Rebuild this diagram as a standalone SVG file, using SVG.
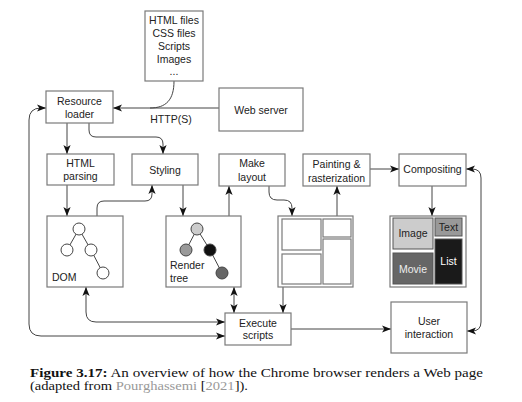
<svg xmlns="http://www.w3.org/2000/svg" width="522" height="402" viewBox="0 0 522 402">
<style>
.box{fill:#fff;stroke:#7a7a7a;stroke-width:1.2}
.t{font-family:"Liberation Sans",Arial,sans-serif;font-size:10.5px;fill:#222;text-anchor:middle}
.c{fill:none;stroke:#444;stroke-width:1}
.tr{stroke:#444;stroke-width:1}
.cap{font-family:"Liberation Serif","Times New Roman",serif;font-size:12.5px;fill:#111}
</style>
<defs>
<marker id="ah" viewBox="0 0 10 8" refX="10" refY="4" markerWidth="9" markerHeight="7.2" markerUnits="userSpaceOnUse" orient="auto-start-reverse">
<path d="M0,0 L10,4 L0,8 L2.5,4 z" fill="#111"/>
</marker>
</defs>
<rect width="522" height="402" fill="#fff"/>

<g id="connectors">
<path class="c" d="M219,108 L113,108" marker-end="url(#ah)"/>
<path class="c" d="M174,81 C174,100 166,108 150,108"/>
<path class="c" d="M67,123 L67,154" marker-end="url(#ah)"/>
<path class="c" d="M89,123 L89,130 Q89,137 96,137 L156,137 Q163,137 163,144 L163,154" marker-end="url(#ah)"/>
<path class="c" d="M225,336 L41,336 Q29,336 29,324 L29,120 Q29,108 41,108 L46,108" marker-start="url(#ah)" marker-end="url(#ah)"/>
<path class="c" d="M67,185 L67,216" marker-end="url(#ah)"/>
<path class="c" d="M97,216 L97,208 Q97,201 104,201 L145,201 Q152,201 152,194 L152,185" marker-end="url(#ah)"/>
<path class="c" d="M183,185 L183,216" marker-end="url(#ah)"/>
<path class="c" d="M229,216 L229,186" marker-end="url(#ah)"/>
<path class="c" d="M269,186 L269,192 Q269,200 277,200 L284,200 Q292,200 292,208 L292,216" marker-end="url(#ah)"/>
<path class="c" d="M337,216 L337,186" marker-end="url(#ah)"/>
<path class="c" d="M370,169 L399,169" marker-end="url(#ah)"/>
<path class="c" d="M432,186 L432,216" marker-end="url(#ah)"/>
<path class="c" d="M467,331 L472,331 Q481,331 481,322 L481,178 Q481,169 472,169 L466,169" marker-start="url(#ah)" marker-end="url(#ah)"/>
<path class="c" d="M283,287 L283,313" marker-end="url(#ah)"/>
<path class="c" d="M234,287 L234,313" marker-start="url(#ah)" marker-end="url(#ah)"/>
<path class="c" d="M86,287 L86,312 Q86,322 96,322 L225,322" marker-start="url(#ah)" marker-end="url(#ah)"/>
<path class="c" d="M291,329 L391,329" marker-end="url(#ah)"/>
</g>

<g id="files">
<rect class="box" x="145" y="11" width="58" height="70"/>
<text class="t" x="174" y="24">HTML files</text>
<text class="t" x="174" y="37">CSS files</text>
<text class="t" x="174" y="50">Scripts</text>
<text class="t" x="174" y="63">Images</text>
<text class="t" x="174" y="75">...</text>
</g>
<g id="resource-loader">
<rect class="box" x="46" y="91" width="67" height="32"/>
<text class="t" x="79.5" y="105">Resource</text>
<text class="t" x="79.5" y="118">loader</text>
</g>
<g id="web-server">
<rect class="box" x="219" y="88" width="84" height="43"/>
<text class="t" x="261" y="114">Web server</text>
</g>
<text id="http-label" class="t" x="171" y="123">HTTP(S)</text>
<g id="html-parsing">
<rect class="box" x="47" y="154" width="67" height="31"/>
<text class="t" x="80.5" y="167">HTML</text>
<text class="t" x="80.5" y="180">parsing</text>
</g>
<g id="styling">
<rect class="box" x="132" y="154" width="66" height="31"/>
<text class="t" x="165" y="174">Styling</text>
</g>
<g id="make-layout">
<rect class="box" x="219" y="154" width="66" height="32"/>
<text class="t" x="252" y="167">Make</text>
<text class="t" x="252" y="181">layout</text>
</g>
<g id="painting">
<rect class="box" x="303" y="154" width="67" height="32"/>
<text class="t" x="336.5" y="168">Painting &amp;</text>
<text class="t" x="336.5" y="182">rasterization</text>
</g>
<g id="compositing">
<rect class="box" x="399" y="154" width="67" height="32"/>
<text class="t" x="432.5" y="173">Compositing</text>
</g>
<g id="dom">
<rect class="box" x="47" y="216" width="76" height="71"/>
<line class="tr" x1="79" y1="229" x2="67" y2="250"/>
<line class="tr" x1="79" y1="229" x2="91" y2="250"/>
<line class="tr" x1="91" y1="250" x2="103" y2="273"/>
<circle cx="79" cy="229" r="6" fill="#fff" stroke="#444"/>
<circle cx="67" cy="250" r="6" fill="#fff" stroke="#444"/>
<circle cx="91" cy="250" r="6" fill="#fff" stroke="#444"/>
<circle cx="103" cy="273" r="6" fill="#fff" stroke="#444"/>
<text class="t" x="52" y="281" style="text-anchor:start">DOM</text>
</g>
<g id="render-tree">
<rect class="box" x="166" y="216" width="75" height="71"/>
<line class="tr" x1="197" y1="229" x2="186" y2="250"/>
<line class="tr" x1="197" y1="229" x2="210" y2="250"/>
<line class="tr" x1="210" y1="250" x2="222" y2="273"/>
<circle cx="197" cy="229" r="6" fill="#ccc" stroke="#444"/>
<circle cx="186" cy="250" r="6" fill="#999" stroke="#444"/>
<circle cx="210" cy="250" r="6" fill="#111" stroke="#444"/>
<circle cx="222" cy="273" r="6" fill="#666" stroke="#444"/>
<text class="t" x="170" y="269" style="text-anchor:start">Render</text>
<text class="t" x="170" y="282" style="text-anchor:start">tree</text>
</g>
<g id="layout">
<rect class="box" x="278" y="216" width="75" height="71"/>
<rect class="box" x="282" y="219" width="39" height="31"/>
<rect class="box" x="323" y="219" width="28" height="18"/>
<rect class="box" x="282" y="254" width="39" height="30"/>
<rect class="box" x="323" y="239" width="28" height="45"/>
</g>
<g id="composited">
<rect class="box" x="390" y="216" width="76" height="71"/>
<rect x="393" y="218" width="40" height="31" fill="#ccc" stroke="#555"/>
<text class="t" x="413" y="237">Image</text>
<rect x="435" y="218" width="27" height="18" fill="#999" stroke="#555"/>
<text class="t" x="448.5" y="231">Text</text>
<rect x="393" y="253" width="40" height="31" fill="#666" stroke="#555"/>
<text class="t" x="413" y="273" style="fill:#eee">Movie</text>
<rect x="435" y="239" width="27" height="45" fill="#1a1a1a" stroke="#555"/>
<text class="t" x="448.5" y="265" style="fill:#fff">List</text>
</g>
<g id="execute-scripts">
<rect class="box" x="225" y="313" width="66" height="32"/>
<text class="t" x="258" y="327">Execute</text>
<text class="t" x="258" y="339">scripts</text>
</g>
<g id="user-interaction">
<rect class="box" x="391" y="302" width="76" height="51"/>
<text class="t" x="429" y="325">User</text>
<text class="t" x="429" y="338">interaction</text>
</g>
<g id="caption">
<text class="cap" x="30" y="377" textLength="453" lengthAdjust="spacingAndGlyphs"><tspan font-weight="bold">Figure 3.17:</tspan> An overview of how the Chrome browser renders a Web page</text>
<text class="cap" x="30" y="390" textLength="218" lengthAdjust="spacingAndGlyphs">(adapted from <tspan fill="#999">Pourghassemi</tspan> [<tspan fill="#999">2021</tspan>]).</text>
</g>
</svg>
